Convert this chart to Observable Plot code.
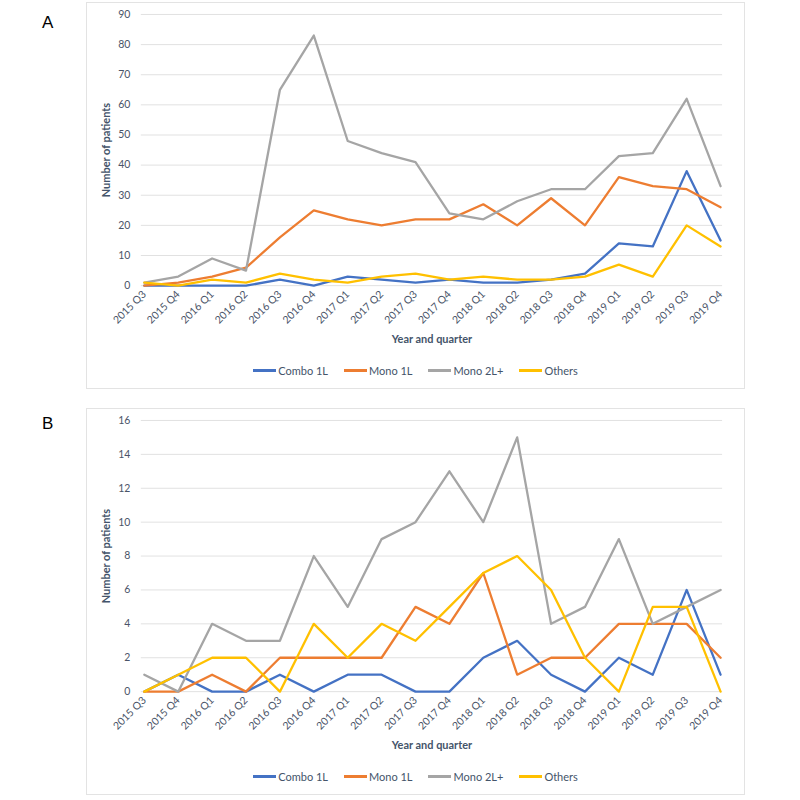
<!DOCTYPE html>
<html>
<head>
<meta charset="utf-8">
<script src="https://cdn.jsdelivr.net/npm/d3@7"></script>
<script src="https://cdn.jsdelivr.net/npm/@observablehq/plot@0.6"></script>
<style>
  html, body { margin: 0; padding: 0; background: #fff; }
  body { width: 800px; height: 800px; position: relative; overflow: hidden; font-family: Lato, "Open Sans", sans-serif; }
  .panel { position: absolute; left: 86px; width: 659px; height: 387px; border: 1px solid #e3e3e3; box-sizing: border-box; background: #fff; }
  .panel svg { position: absolute; left: 0; top: 0; overflow: visible; }
  .tag { position: absolute; font-family: "Liberation Sans", Arial, sans-serif; font-size: 17px; color: #000; }
  .legend { position: absolute; left: 0; width: 100%; display: flex; justify-content: center; gap: 16px; font-size: 11px; color: #44546a; }
  .legend .item { display: flex; align-items: center; }
  .legend .sw { width: 23px; height: 3px; margin-right: 2px; }
</style>
</head>
<body>
<div class="tag" style="left:42px; top:13px;">A</div>
<div class="tag" style="left:42px; top:414px;">B</div>
<div class="panel" id="pa" style="top:2px;"></div>
<div class="panel" id="pb" style="top:408px;"></div>
<script>
const quarters = ["2015 Q3","2015 Q4","2016 Q1","2016 Q2","2016 Q3","2016 Q4","2017 Q1","2017 Q2","2017 Q3","2017 Q4","2018 Q1","2018 Q2","2018 Q3","2018 Q4","2019 Q1","2019 Q2","2019 Q3","2019 Q4"];
const seriesNames = ["Combo 1L","Mono 1L","Mono 2L+","Others"];
const seriesColors = ["#4472C4","#ED7D31","#A5A5A5","#FFC000"];

// Panel A
const aCombo1L = [0,0,0,0,2,0,3,2,1,2,1,1,2,4,14,13,38,15];
const aMono1L  = [0,1,3,6,16,25,22,20,22,22,27,20,29,20,36,33,32,26];
const aMono2L  = [1,3,9,5,65,83,48,44,41,24,22,28,32,32,43,44,62,33];
const aOthers  = [1,0,2,1,4,2,1,3,4,2,3,2,2,3,7,3,20,13];
const aTicks = [0,10,20,30,40,50,60,70,80,90];

// Panel B
const bCombo1L = [0,1,0,0,1,0,1,1,0,0,2,3,1,0,2,1,6,1];
const bMono1L  = [0,0,1,0,2,2,2,2,5,4,7,1,2,2,4,4,4,2];
const bMono2L  = [1,0,4,3,3,8,5,9,10,13,10,15,4,5,9,4,5,6];
const bOthers  = [0,1,2,2,0,4,2,4,3,5,7,8,6,2,0,5,5,0];
const bTicks = [0,2,4,6,8,10,12,14,16];

function toRows(arrs) {
  const rows = [];
  arrs.forEach((vals, si) => vals.forEach((v, i) => rows.push({series: seriesNames[si], quarter: quarters[i], value: v})));
  return rows;
}

function draw(el, arrs, ticks) {
  const rows = toRows(arrs);
  const chart = Plot.plot({
    width: 659,
    height: 350,
    marginLeft: 54,
    marginRight: 22,
    marginTop: 11,
    marginBottom: 67,
    style: {fontFamily: "Lato, 'Open Sans', sans-serif", fontSize: "10px", color: "#4a5468", background: "transparent", overflow: "visible"},
    x: {type: "point", domain: quarters, padding: 0},
    y: {domain: [ticks[0], ticks[ticks.length - 1]]},
    color: {domain: seriesNames, range: seriesColors},
    marks: [
      Plot.gridY(ticks, {stroke: "#d9d9d9", strokeOpacity: 1, strokeWidth: 0.8}),
      Plot.axisY(ticks, {tickSize: 0, tickPadding: 11, label: null, fontSize: 10.5}),
      Plot.axisX({tickSize: 0, tickPadding: 7, tickRotate: -45, label: null, fontSize: 10.5}),
      Plot.lineY(rows, {x: "quarter", y: "value", z: "series", stroke: "series", strokeWidth: 2.3, strokeLinejoin: "round"}),
      Plot.text(["Number of patients"], {frameAnchor: "left", rotate: -90, dx: -35, textAnchor: "middle", lineAnchor: "middle", fontWeight: "bold", fontSize: 11, fill: "#44546a"}),
      Plot.text(["Year and quarter"], {frameAnchor: "bottom", dy: 54, textAnchor: "middle", lineAnchor: "middle", fontWeight: "bold", fontSize: 11, fill: "#44546a"})
    ]
  });
  el.appendChild(chart);
  const lg = document.createElement("div");
  lg.className = "legend";
  lg.style.top = "361px";
  seriesNames.forEach((n, i) => {
    const it = document.createElement("div");
    it.className = "item";
    const sw = document.createElement("span");
    sw.className = "sw";
    sw.style.background = seriesColors[i];
    const tx = document.createElement("span");
    tx.textContent = n;
    it.appendChild(sw); it.appendChild(tx);
    lg.appendChild(it);
  });
  el.appendChild(lg);
}

draw(document.getElementById("pa"), [aCombo1L, aMono1L, aMono2L, aOthers], aTicks);
draw(document.getElementById("pb"), [bCombo1L, bMono1L, bMono2L, bOthers], bTicks);
</script>
</body>
</html>
